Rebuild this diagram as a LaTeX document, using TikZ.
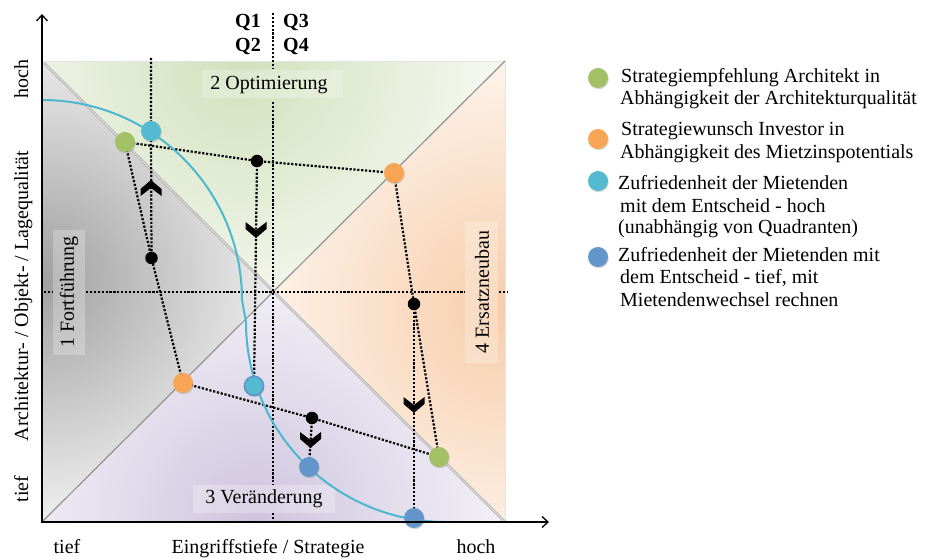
\documentclass[tikz,border=0pt]{standalone}
\usepackage{fontspec}
\setmainfont{Liberation Serif}
\usetikzlibrary{arrows.meta,shadows}
\definecolor{cgreen}{RGB}{162,193,101}
\definecolor{corange}{RGB}{248,165,86}
\definecolor{ccyan}{RGB}{84,186,210}
\definecolor{cblue}{RGB}{98,150,202}
\definecolor{ccurve}{RGB}{75,184,207}
\definecolor{bggray}{RGB}{160,160,160}
\definecolor{bggreen}{RGB}{210,224,188}
\definecolor{bgorange}{RGB}{247,205,170}
\definecolor{bgpurple}{RGB}{206,196,222}
\begin{document}
\begin{tikzpicture}[x=1pt,y=1pt,
  txt/.style={font=\fontsize{20}{24}\selectfont, inner sep=0pt},
  btxt/.style={font=\fontsize{20}{24}\selectfont\bfseries, inner sep=0pt},
  dotline/.style={line width=2.2pt, dash pattern=on 2.2pt off 1.7pt},
  bigdot/.style={circle, inner sep=0pt, minimum size=20pt, draw=none,
    drop shadow={shadow xshift=0.8pt, shadow yshift=-1.3pt, opacity=0.3}},
  smalldot/.style={circle, inner sep=0pt, minimum size=12.5pt, fill=black},
  lblbox/.style={fill=white, fill opacity=0.25, draw=none},
  chev/.pic={\fill[black] (-10.5,8) -- (0,0) -- (10.5,8) -- (10.5,1) -- (0,-8) -- (-10.5,1) -- cycle;}
]
\useasboundingbox (0,0) rectangle (927,559);
\coordinate (ctr) at (273.5,267.5);
% background gradients
\begin{scope}
  \clip (42,498) -- (505,498) -- (ctr) -- cycle;
  \shade[inner color=bggreen, outer color=white] (240,498) circle (330);
\end{scope}
\begin{scope}
  \clip (42,37) -- (42,498) -- (ctr) -- cycle;
  \shade[inner color=bggray, outer color=white] (42,280) circle (290);
\end{scope}
\begin{scope}
  \clip (505,37) -- (505,498) -- (ctr) -- cycle;
  \shade[inner color=bgorange, outer color=white] (505,250) circle (330);
\end{scope}
\begin{scope}
  \clip (42,37) -- (505,37) -- (ctr) -- cycle;
  \shade[inner color=bgpurple, outer color=white] (255,37) circle (330);
\end{scope}
\draw[gray!20, line width=0.6pt] (42,37) rectangle (505,498);
% label boxes
\fill[lblbox] (202,461) rectangle (343,489);
\fill[lblbox] (53,204) rectangle (85,329);
\fill[lblbox] (465,196) rectangle (498,337);
\fill[lblbox] (193,46) rectangle (335,74);
% diagonals
\coordinate (dA) at (42,37);
\coordinate (dB) at (505,498);
\coordinate (dC) at (44,496);
\coordinate (dD) at (505,37);
\draw[gray!85, line width=1.2pt] (dA) -- (dB);
\draw[gray!60, line width=2.6pt] (dC) -- (dD);
\draw[gray!22, line width=0.8pt] (dC) -- (dD);
% quadrant dotted lines
\coordinate (v1) at (273,546); \coordinate (v2) at (273,490);
\coordinate (v3) at (273,457); \coordinate (v4) at (273,74);
\coordinate (v5) at (273,46);  \coordinate (v6) at (273,35);
\coordinate (h1) at (44,267);  \coordinate (h2) at (53,267);
\coordinate (h3) at (86,267);  \coordinate (h4) at (465,267);
\coordinate (h5) at (499,267); \coordinate (h6) at (508,267);
\draw[dotline] (v1) -- (v2);
\draw[dotline] (v3) -- (v4);
\draw[dotline] (v5) -- (v6);
\draw[dotline] (h1) -- (h2);
\draw[dotline] (h3) -- (h4);
\draw[dotline] (h5) -- (h6);
% dot positions
\coordinate (g1) at (125,417);
\coordinate (c1) at (151,428);
\coordinate (c1top) at (151,501);
\coordinate (b1) at (151.5,301);
\coordinate (o1) at (183,176);
\coordinate (c2) at (254,173);
\coordinate (b2) at (257,398);
\coordinate (o2) at (394,386);
\coordinate (b3) at (414,255);
\coordinate (g2) at (439,102);
\coordinate (d1) at (414,41);
\coordinate (b4) at (312,141);
\coordinate (d2) at (309,92);
% connectors
\draw[dotline] (g1) -- (b2) -- (o2);
\draw[dotline] (g1) -- (b1) -- (o1);
\draw[dotline] (c1top) -- (c1) -- (b1);
\draw[dotline] (b2) -- (c2);
\draw[dotline] (o2) -- (b3) -- (g2);
\draw[dotline] (b3) -- (d1);
\draw[dotline] (o1) -- (b4) -- (g2);
\draw[dotline] (b4) -- (d2);
% curve
\draw[ccurve, line width=2pt] (42,459) arc[start angle=90, end angle=0, radius=200]
  -- (246,237) arc[start angle=180, end angle=270, radius=200];
% chevrons
\pic[rotate=180] at (151,371) {chev};
\pic at (256,329) {chev};
\pic at (414,154) {chev};
\pic at (310.5,119) {chev};
% dots
\node[smalldot] (B1) at (b1) {};
\node[smalldot] (B2) at (b2) {};
\node[smalldot] (B3) at (b3) {};
\node[smalldot] (B4) at (b4) {};
\node[bigdot, fill=cgreen] (G1) at (g1) {};
\node[bigdot, fill=ccyan] (C1) at (c1) {};
\node[bigdot, fill=corange] (O1) at (o1) {};
\node[bigdot, fill=ccyan, draw=cblue, line width=1.8pt, minimum size=19pt] (C2) at (c2) {};
\node[bigdot, fill=corange] (O2) at (o2) {};
\node[bigdot, fill=cgreen] (G2) at (g2) {};
\node[bigdot, fill=cblue] (D1) at (d1) {};
\node[bigdot, fill=cblue] (D2) at (d2) {};
% axes
\coordinate (org) at (42,37);
\coordinate (ytip) at (42,545);
\coordinate (xtip) at (549,37);
\draw[line width=1.8pt, {Straight Barb[length=6pt,width=11pt,line width=1.3pt]}-{Straight Barb[length=6pt,width=11pt,line width=1.3pt]}] (ytip) -- (org) -- (xtip);
% labels
\node[btxt] (q1) at (248,536) {Q1};
\node[btxt] (q3) at (296,536) {Q3};
\node[btxt] (q2) at (248,512) {Q2};
\node[btxt] (q4) at (296,512) {Q4};
\node[txt] (opt) at (269,474) {2 Optimierung};
\node[txt, rotate=90] (fort) at (69,267) {1 Fortführung};
\node[txt, rotate=90] (ers) at (482,267) {4 Ersatzneubau};
\node[txt] (ver) at (264,60) {3 Veränderung};
\node[txt, rotate=90, anchor=base] (yh) at (28,480) {hoch};
\node[txt, rotate=90, anchor=base] (yt) at (28,70) {tief};
\node[txt, rotate=90, anchor=base] (yl) at (28,263) {Architektur- / Objekt- / Lagequalität};
\node[txt, anchor=base] (xt) at (67,5) {tief};
\node[txt, anchor=base] (xl) at (268,5) {Eingriffstiefe / Strategie};
\node[txt, anchor=base] (xh) at (476,5) {hoch};
% legend
\node[bigdot, fill=cgreen] (L1) at (598,481) {};
\node[bigdot, fill=corange] (L2) at (598,420) {};
\node[bigdot, fill=ccyan] (L3) at (598,378) {};
\node[bigdot, fill=cblue] (L4) at (598,302) {};
\node[txt, anchor=base west] (t1) at (621,476) {Strategiempfehlung Architekt in};
\node[txt, anchor=base west] (t2) at (620,454) {Abhängigkeit der Architekturqualität};
\node[txt, anchor=base west] (t3) at (621,423) {Strategiewunsch Investor in};
\node[txt, anchor=base west] (t4) at (620,400) {Abhängigkeit des Mietzinspotentials};
\node[txt, anchor=base west] (t5) at (618,369) {Zufriedenheit der Mietenden};
\node[txt, anchor=base west] (t6) at (620,346.5) {mit dem Entscheid - hoch};
\node[txt, anchor=base west] (t7) at (618,325) {(unabhängig von Quadranten)};
\node[txt, anchor=base west] (t8) at (618,297) {Zufriedenheit der Mietenden mit};
\node[txt, anchor=base west] (t9) at (620,275) {dem Entscheid - tief, mit};
\node[txt, anchor=base west] (t10) at (620,252) {Mietendenwechsel rechnen};
\end{tikzpicture}
\end{document}
